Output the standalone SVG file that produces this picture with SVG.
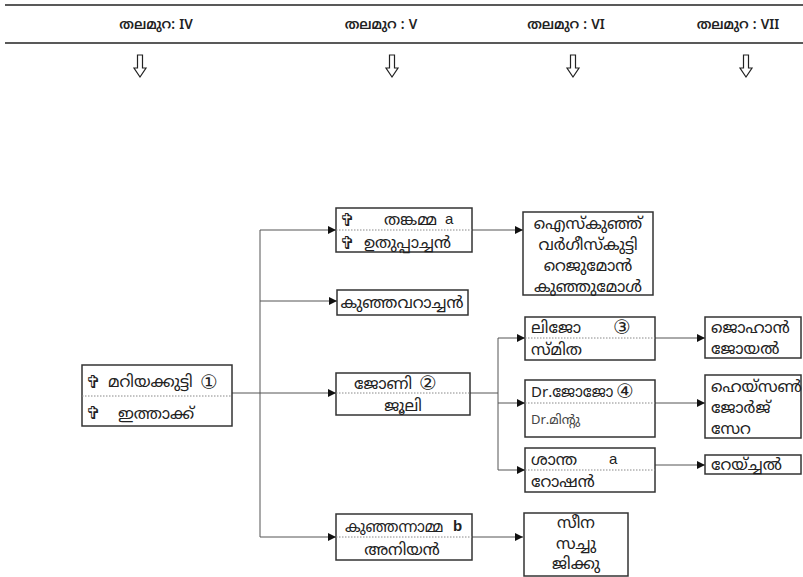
<svg xmlns="http://www.w3.org/2000/svg" width="803" height="577" viewBox="0 0 803 577">
<style>
.box{fill:#fff;stroke:#333;stroke-width:1.5}
.div{stroke:#888;stroke-width:1;stroke-dasharray:1.5,1.5}
.t{font-family:"Noto Sans Malayalam","Noto Sans","DejaVu Sans",sans-serif;font-size:16px;fill:#222}
.h{font-family:"Noto Sans Malayalam","Noto Sans","DejaVu Sans",sans-serif;font-size:13.5px;font-weight:600;fill:#222;text-anchor:middle}
.m{text-anchor:middle}
.c{font-family:"DejaVu Sans",sans-serif;font-size:18px;fill:#222}
.n{font-family:"DejaVu Sans",sans-serif;font-size:20px;fill:#222}
.s{font-family:"Liberation Sans",sans-serif;font-size:15px;fill:#222}
.ln{stroke:#555;stroke-width:1;fill:none}
.dn{fill:#fff;stroke:#222;stroke-width:1.2}
</style>
<defs>
<marker id="ah" markerWidth="8" markerHeight="8" refX="8" refY="4" orient="auto" markerUnits="userSpaceOnUse">
<path d="M0,0 L8,4 L0,8 Z" fill="#111"/>
</marker>
</defs>
<g id="header">
<line x1="5" y1="5" x2="803" y2="5" stroke="#222" stroke-width="1.5"/>
<line x1="5" y1="43" x2="803" y2="43" stroke="#222" stroke-width="1.5"/>
<text class="h" x="156" y="29">തലമുറ: IV</text>
<text class="h" x="381" y="29">തലമുറ : V</text>
<text class="h" x="566" y="29">തലമുറ : VI</text>
<text class="h" x="738" y="29">തലമുറ : VII</text>
<polygon class="dn" points="137.5,55 142.5,55 142.5,68 146,68 140,77 134,68 137.5,68"/>
<polygon class="dn" points="389.5,55 394.5,55 394.5,68 398,68 392,77 386,68 389.5,68"/>
<polygon class="dn" points="570.5,55 575.5,55 575.5,68 579,68 573,77 567,68 570.5,68"/>
<polygon class="dn" points="743.5,55 748.5,55 748.5,68 752,68 746,77 740,68 743.5,68"/>
</g>
<g id="connectors">
<polyline class="ln" points="232,393 260,393"/>
<line class="ln" x1="260" y1="230" x2="260" y2="537"/>
<line class="ln" x1="260" y1="230" x2="336" y2="230" marker-end="url(#ah)"/>
<line class="ln" x1="260" y1="301" x2="337" y2="301" marker-end="url(#ah)"/>
<line class="ln" x1="260" y1="393" x2="336" y2="393" marker-end="url(#ah)"/>
<line class="ln" x1="260" y1="537" x2="336" y2="537" marker-end="url(#ah)"/>
<line class="ln" x1="472" y1="230" x2="523" y2="230" marker-end="url(#ah)"/>
<line class="ln" x1="470" y1="393" x2="498" y2="393"/>
<line class="ln" x1="498" y1="338" x2="498" y2="470"/>
<line class="ln" x1="498" y1="338" x2="525" y2="338" marker-end="url(#ah)"/>
<line class="ln" x1="498" y1="403" x2="525" y2="403" marker-end="url(#ah)"/>
<line class="ln" x1="498" y1="470" x2="525" y2="470" marker-end="url(#ah)"/>
<line class="ln" x1="472" y1="537" x2="523" y2="537" marker-end="url(#ah)"/>
<line class="ln" x1="655" y1="338" x2="705" y2="338" marker-end="url(#ah)"/>
<line class="ln" x1="655" y1="403" x2="705" y2="403" marker-end="url(#ah)"/>
<line class="ln" x1="655" y1="465" x2="705" y2="465" marker-end="url(#ah)"/>
</g>
<g id="n-mariyakutty">
<rect class="box" x="82" y="365" width="150" height="61"/>
<line class="div" x1="82" y1="396" x2="232" y2="396"/>
<text class="c" x="86" y="388">✞</text>
<text class="t" x="108" y="387">മറിയക്കുട്ടി</text>
<text class="n" x="200" y="389">①</text>
<text class="c" x="86" y="419">✞</text>
<text class="t" x="118" y="419">ഇത്താക്ക്</text>
</g>
<g id="n-thankamma">
<rect class="box" x="336" y="208" width="136" height="44"/>
<line class="div" x1="336" y1="230" x2="472" y2="230"/>
<text class="c" x="340" y="226">✞</text>
<text class="t" x="384" y="225">തങ്കമ്മ</text>
<text class="s" x="445" y="224">a</text>
<text class="c" x="340" y="249">✞</text>
<text class="t" x="364" y="248">ഉതുപ്പാച്ചൻ</text>
</g>
<g id="n-kunjavarachan">
<rect class="box" x="337" y="290" width="131" height="25"/>
<text class="t m" x="402" y="308">കുഞ്ഞവറാച്ചൻ</text>
</g>
<g id="n-johny">
<rect class="box" x="336" y="373" width="134" height="42"/>
<line class="div" x1="336" y1="393" x2="470" y2="393"/>
<text class="t m" x="383" y="389">ജോണി</text>
<text class="n" x="419" y="390">②</text>
<text class="t m" x="403" y="411">ജൂലി</text>
</g>
<g id="n-kunjannamma">
<rect class="box" x="336" y="514" width="136" height="46"/>
<line class="div" x1="336" y1="537" x2="472" y2="537"/>
<text class="t" x="345" y="532" style="font-size:15px">കുഞ്ഞന്നാമ്മ</text>
<text class="s" x="453" y="531" font-weight="bold">b</text>
<text class="t m" x="402" y="555">അനിയൻ</text>
</g>
<g id="n-iceknj">
<rect class="box" x="523" y="212" width="130" height="83"/>
<text class="t m" x="588" y="229">ഐസ്കുഞ്ഞ്</text>
<text class="t m" x="588" y="250">വർഗീസ്കുട്ടി</text>
<text class="t m" x="588" y="271">റെജുമോൻ</text>
<text class="t m" x="588" y="292">കുഞ്ഞുമോൾ</text>
</g>
<g id="n-lijo">
<rect class="box" x="525" y="317" width="130" height="43"/>
<line class="div" x1="525" y1="338" x2="655" y2="338"/>
<text class="t" x="531" y="333">ലിജോ</text>
<text class="n" x="613" y="334">③</text>
<text class="t" x="531" y="355">സ്മിത</text>
</g>
<g id="n-jojo">
<rect class="box" x="525" y="380" width="130" height="57"/>
<line class="div" x1="525" y1="403" x2="655" y2="403"/>
<text class="t" x="531" y="397" style="font-size:15px">Dr.ജോജോ</text>
<text class="n" x="616" y="398">④</text>
<text class="t" x="531" y="424" style="font-size:13px;fill:#444">Dr.മിന്റു</text>
</g>
<g id="n-shantha">
<rect class="box" x="525" y="448" width="130" height="44"/>
<line class="div" x1="525" y1="470" x2="655" y2="470"/>
<text class="t" x="531" y="465">ശാന്ത</text>
<text class="s" x="609" y="464">a</text>
<text class="t" x="531" y="487">റോഷൻ</text>
</g>
<g id="n-seena">
<rect class="box" x="524" y="513" width="104" height="63"/>
<text class="t m" x="576" y="528">സീന</text>
<text class="t m" x="576" y="549">സച്ചു</text>
<text class="t m" x="576" y="569">ജിക്കു</text>
</g>
<g id="n-johan">
<rect class="box" x="705" y="317" width="96" height="41"/>
<text class="t" x="711" y="333">ജൊഹാൻ</text>
<text class="t" x="711" y="354">ജോയൽ</text>
</g>
<g id="n-hayson">
<rect class="box" x="705" y="375" width="96" height="63"/>
<text class="t" x="711" y="392">ഹെയ്സൺ</text>
<text class="t" x="711" y="413">ജോർജ്</text>
<text class="t" x="711" y="434">സേറ</text>
</g>
<g id="n-rachel">
<rect class="box" x="705" y="455" width="96" height="19"/>
<text class="t" x="711" y="470">റേയ്ച്ചൽ</text>
</g>
</svg>
